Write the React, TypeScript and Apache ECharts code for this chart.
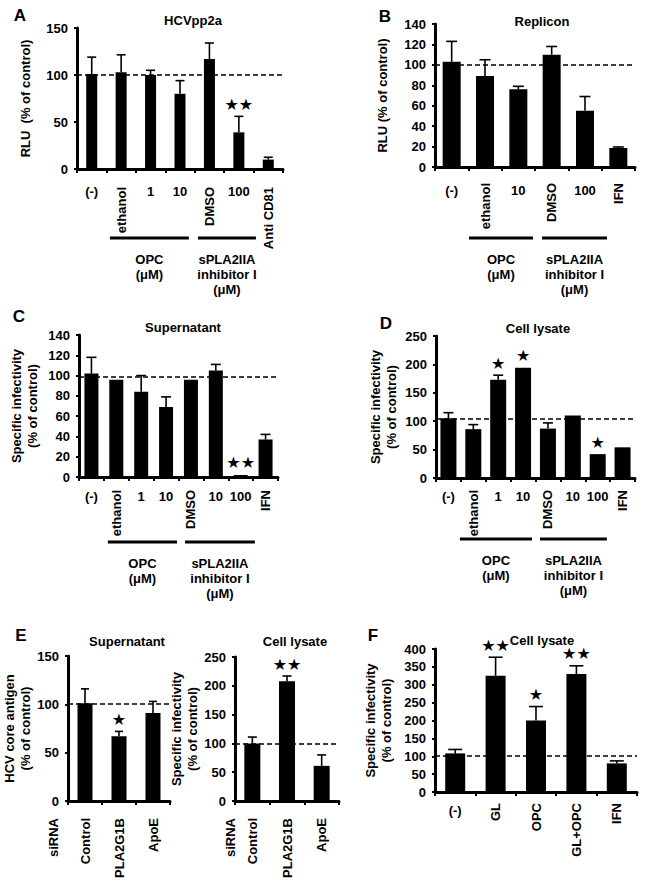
import React, { useEffect, useRef } from 'react';
import * as echarts from 'echarts';

const FONT = '"Liberation Sans", Arial, Helvetica, sans-serif';

// ---------- Panel A : HCVpp2a ----------
const catsA = ['(-)', 'ethanol', '1', '10', 'DMSO', '100', 'Anti CD81'];
const rotA = [0, 1, 0, 0, 1, 0, 1];
const valsA = [101, 103, 100, 80, 117, 39, 10];
const errA: (number | null)[] = [119, 121.5, 105, 94, 134, 56, 12.5];
const starsA = ['', '', '', '', '', '★★', ''];
const ticksA = { max: 150, interval: 50 };
const refA = 100;

// ---------- Panel B : Replicon ----------
const catsB = ['(-)', 'ethanol', '10', 'DMSO', '100', 'IFN'];
const rotB = [0, 1, 0, 1, 0, 1];
const valsB = [103, 89, 76, 110, 55, 18.6];
const errB: (number | null)[] = [123, 105, 79, 118, 69, 19.6];
const starsB = ['', '', '', '', '', ''];
const ticksB = { max: 140, interval: 20 };
const refB = 100;

// ---------- Panel C : Supernatant ----------
const catsC = ['(-)', 'ethanol', '1', '10', 'DMSO', '10', '100', 'IFN'];
const rotC = [0, 1, 0, 0, 1, 0, 0, 1];
const valsC = [102, 96, 84, 69, 96, 105, 2, 37];
const errC: (number | null)[] = [118, null, 100, 79, null, 111, null, 42];
const starsC = ['', '', '', '', '', '', '★★', ''];
const ticksC = { max: 140, interval: 20 };
const refC = 99;

// ---------- Panel D : Cell lysate ----------
const catsD = ['(-)', 'ethanol', '1', '10', 'DMSO', '10', '100', 'IFN'];
const rotD = [0, 1, 0, 0, 1, 0, 0, 1];
const valsD = [105, 86, 173, 194, 87, 110, 42, 54];
const errD: (number | null)[] = [115, 94, 181, null, 97, null, null, null];
const starsD = ['', '', '★', '★', '', '', '★', ''];
const ticksD = { max: 250, interval: 50 };
const refD = 105;

// ---------- Panel E (left) : Supernatant ----------
const catsE1 = ['Control', 'PLA2G1B', 'ApoE'];
const rotE1 = [1, 1, 1];
const valsE1 = [101, 67, 91];
const errE1: (number | null)[] = [116, 72, 103];
const starsE1 = ['', '★', ''];
const ticksE1 = { max: 150, interval: 50 };
const refE1 = 101;

// ---------- Panel E (right) : Cell lysate ----------
const catsE2 = ['Control', 'PLA2G1B', 'ApoE'];
const rotE2 = [1, 1, 1];
const valsE2 = [100, 208, 61];
const errE2: (number | null)[] = [111, 217, 80];
const starsE2 = ['', '★★', ''];
const ticksE2 = { max: 250, interval: 50 };
const refE2 = 100;

// ---------- Panel F : Cell lysate ----------
const catsF = ['(-)', 'GL', 'OPC', 'GL+OPC', 'IFN'];
const rotF = [0, 1, 1, 1, 1];
const valsF = [108, 325, 200, 330, 80];
const errF: (number | null)[] = [119, 377, 239, 353, 87];
const starsF = ['', '★★', '★', '★★', ''];
const ticksF = { max: 400, interval: 50 };
const refF = 102;

const titles = ['HCVpp2a', 'Replicon', 'Supernatant', 'Cell lysate', 'Supernatant', 'Cell lysate', 'Cell lysate'];
const yNames = [
  'RLU  (% of control)',
  'RLU (% of control)',
  'Specific infectivity\n(% of control)',
  'Specific infectivity\n(% of control)',
  'HCV core antigen\n(% of control)',
  'Specific infectivity\n(% of control)',
  'Specific infectivity\n(% of control)',
];
const letters = ['A', 'B', 'C', 'D', 'E', 'F'];
const groupOPC = 'OPC\n(μM)';
const groupSPLA = 'sPLA2IIA\ninhibitor I\n(μM)';
const siRNALabel = 'siRNA';

const panels = [
  { cats: catsA, rot: rotA, vals: valsA, errs: errA, stars: starsA, ticks: ticksA, ref: refA },
  { cats: catsB, rot: rotB, vals: valsB, errs: errB, stars: starsB, ticks: ticksB, ref: refB },
  { cats: catsC, rot: rotC, vals: valsC, errs: errC, stars: starsC, ticks: ticksC, ref: refC },
  { cats: catsD, rot: rotD, vals: valsD, errs: errD, stars: starsD, ticks: ticksD, ref: refD },
  { cats: catsE1, rot: rotE1, vals: valsE1, errs: errE1, stars: starsE1, ticks: ticksE1, ref: refE1 },
  { cats: catsE2, rot: rotE2, vals: valsE2, errs: errE2, stars: starsE2, ticks: ticksE2, ref: refE2 },
  { cats: catsF, rot: rotF, vals: valsF, errs: errF, stars: starsF, ticks: ticksF, ref: refF },
];

// ---------- Layout (pixels) ----------
const layouts = [
  { left: 77, top: 28, width: 206, height: 141, bar: 11, cap: 9, gap: 44, hm: 16, rm: 18, tx: 188, ty: 17 },
  { left: 435, top: 24, width: 200, height: 143, bar: 18, cap: 11, gap: 45, hm: 17, rm: 16, tx: 537, ty: 18 },
  { left: 79, top: 335, width: 199, height: 142, bar: 14, cap: 10, gap: 39, hm: 13, rm: 13, tx: 178, ty: 324 },
  { left: 436, top: 336, width: 199, height: 142, bar: 16, cap: 10, gap: 37, hm: 12, rm: 12, tx: 533, ty: 325 },
  { left: 68, top: 656, width: 102, height: 145, bar: 15, cap: 8, gap: 27, hm: 17, rm: 17, tx: 122, ty: 638 },
  { left: 235, top: 657, width: 104, height: 144, bar: 16, cap: 9, gap: 28, hm: 17, rm: 17, tx: 290, ty: 638 },
  { left: 435, top: 649, width: 202, height: 143, bar: 20, cap: 14, gap: 41, hm: 12, rm: 11, tx: 537, ty: 637 },
];
const letterPos = [
  [20, 15], [385, 16], [19, 316], [386, 323], [21, 635], [373, 635],
];
// group bars under x labels: [panelIndex, lineY, start(cat units), end(cat units), label]
const groups: [number, number, number, number, string][] = [
  [0, 238, 1.12, 3.8, groupOPC],
  [0, 238, 4.11, 6.08, groupSPLA],
  [1, 238, 1.02, 2.94, groupOPC],
  [1, 238, 3.21, 5.16, groupSPLA],
  [2, 542, 1.16, 3.94, groupOPC],
  [2, 542, 4.26, 7.07, groupSPLA],
  [3, 539, 0.96, 3.86, groupOPC],
  [3, 539, 4.18, 6.87, groupSPLA],
];
const siRNAPos = [[53, 818], [230, 818]];

const textBase = { color: '#000', fontFamily: FONT, fontWeight: 'bold' as const, fontSize: 13 };

function buildOption() {
  const grid: any[] = [];
  const xAxis: any[] = [];
  const yAxis: any[] = [];
  const series: any[] = [];
  const title: any[] = [];

  panels.forEach((p, i) => {
    const l = layouts[i];
    grid.push({ left: l.left, top: l.top, width: l.width, height: l.height });
    title.push({
      text: titles[i],
      left: l.tx,
      top: l.ty - 8,
      textAlign: 'center',
      textStyle: { ...textBase, fontSize: 13 },
    });
    const base = { type: 'category', gridIndex: i, data: p.cats, position: 'bottom', boundaryGap: true };
    xAxis.push({
      ...base,
      axisLine: { show: true, lineStyle: { color: '#000', width: 3 } },
      axisTick: { show: true, length: 4, lineStyle: { color: '#000', width: 2 } },
      axisLabel: {
        ...textBase,
        interval: 0,
        margin: l.hm,
        formatter: (v: string, idx: number) => (p.rot[idx] ? '' : v),
      },
    });
    xAxis.push({
      ...base,
      axisLine: { show: false },
      axisTick: { show: false },
      axisLabel: {
        ...textBase,
        interval: 0,
        rotate: 90,
        margin: l.rm,
        formatter: (v: string, idx: number) => (p.rot[idx] ? v : ''),
      },
    });
    yAxis.push({
      type: 'value',
      gridIndex: i,
      min: 0,
      max: p.ticks.max,
      interval: p.ticks.interval,
      name: yNames[i],
      nameLocation: 'middle',
      nameGap: l.gap,
      nameTextStyle: { ...textBase, lineHeight: 16 },
      axisLine: { show: true, lineStyle: { color: '#000', width: 3 } },
      axisTick: { show: true, length: 3, lineStyle: { color: '#000', width: 2 } },
      splitLine: { show: false },
      axisLabel: { ...textBase, margin: 9 },
    });

    series.push({
      type: 'bar',
      xAxisIndex: 2 * i,
      yAxisIndex: i,
      data: p.vals,
      barWidth: l.bar,
      itemStyle: { color: '#000' },
      markLine: {
        silent: true,
        symbol: ['none', 'none'],
        label: { show: false },
        lineStyle: { color: '#000', width: 1.5, type: [5, 3] },
        data: [{ yAxis: p.ref }],
      },
    });

    const errData = p.vals
      .map((v, k) => [k, v, p.errs[k]])
      .filter((d) => d[2] != null && (d[2] as number) > (d[1] as number));
    series.push({
      type: 'custom',
      xAxisIndex: 2 * i,
      yAxisIndex: i,
      data: errData,
      encode: { x: 0, y: [1, 2] },
      renderItem: (params: any, api: any) => {
        const x = api.value(0);
        const p0 = api.coord([x, api.value(1)]);
        const p1 = api.coord([x, api.value(2)]);
        const hw = l.cap / 2;
        return {
          type: 'group',
          children: [
            { type: 'line', shape: { x1: p0[0], y1: p0[1], x2: p1[0], y2: p1[1] }, style: { stroke: '#000', lineWidth: 1.6 } },
            { type: 'line', shape: { x1: p1[0] - hw, y1: p1[1], x2: p1[0] + hw, y2: p1[1] }, style: { stroke: '#000', lineWidth: 1.6 } },
          ],
        };
      },
    });

    const starIdx = p.stars.map((s, k) => (s ? k : -1)).filter((k) => k >= 0);
    if (starIdx.length) {
      series.push({
        type: 'custom',
        xAxisIndex: 2 * i,
        yAxisIndex: i,
        data: starIdx.map((k) => [k, Math.max(p.vals[k], (p.errs[k] as number) ?? 0)]),
        encode: { x: 0, y: 1 },
        renderItem: (params: any, api: any) => {
          const k = starIdx[params.dataIndex];
          const pt = api.coord([api.value(0), api.value(1)]);
          return {
            type: 'text',
            x: pt[0],
            y: pt[1] - 12,
            style: {
              text: p.stars[k],
              fill: '#000',
              fontSize: 16,
              fontFamily: '"DejaVu Sans", sans-serif',
              textAlign: 'center',
              textVerticalAlign: 'middle',
            },
          };
        },
      });
    }
  });

  const graphic: any[] = [];
  letters.forEach((t, i) => {
    graphic.push({
      type: 'text',
      x: letterPos[i][0],
      y: letterPos[i][1],
      style: {
        text: t,
        fill: '#000',
        font: `bold 17px ${FONT}`,
        textAlign: 'center',
        textVerticalAlign: 'middle',
      },
    });
  });
  groups.forEach(([pi, ly, u0, u1, label]) => {
    const l = layouts[pi];
    const cw = l.width / panels[pi].cats.length;
    const x0 = l.left + u0 * cw;
    const x1 = l.left + u1 * cw;
    graphic.push({
      type: 'line',
      shape: { x1: x0, y1: ly, x2: x1, y2: ly },
      style: { stroke: '#000', lineWidth: 3 },
    });
    graphic.push({
      type: 'text',
      x: (x0 + x1) / 2,
      y: ly + 14,
      style: {
        text: label,
        fill: '#000',
        font: `bold 13px ${FONT}`,
        lineHeight: 15,
        textAlign: 'center',
        textVerticalAlign: 'top',
      },
    });
  });
  siRNAPos.forEach(([x, y]) => {
    graphic.push({
      type: 'text',
      x,
      y,
      rotation: Math.PI / 2,
      style: {
        text: siRNALabel,
        fill: '#000',
        font: `bold 13px ${FONT}`,
        textAlign: 'right',
        textVerticalAlign: 'middle',
      },
    });
  });

  return {
    animation: false,
    backgroundColor: '#fff',
    title,
    grid,
    xAxis,
    yAxis,
    series,
    graphic,
  };
}

export default function App() {
  const ref = useRef<HTMLDivElement>(null);
  useEffect(() => {
    if (!ref.current) return;
    const chart = echarts.init(ref.current, undefined, { renderer: 'svg' });
    chart.setOption(buildOption() as any);
    return () => chart.dispose();
  }, []);
  return (
    <div
      ref={ref}
      style={{ position: 'absolute', left: 0, top: 0, width: 649, height: 887, background: '#fff' }}
    />
  );
}
